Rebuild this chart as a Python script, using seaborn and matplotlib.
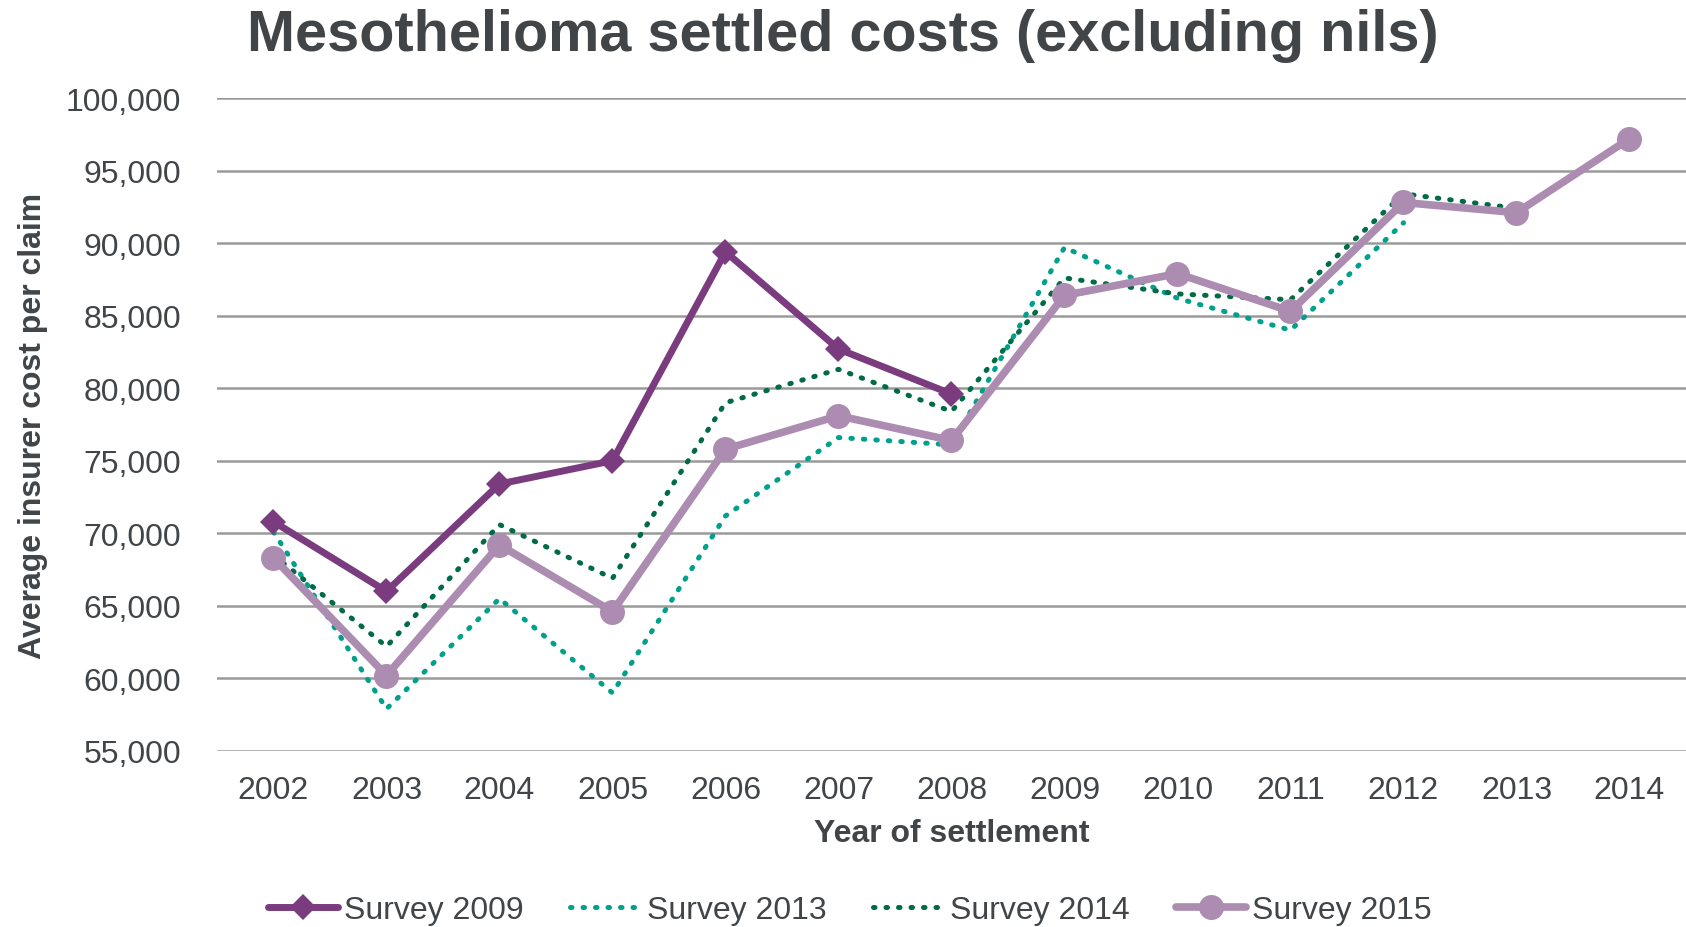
"""Mesothelioma settled costs (excluding nils) by survey year."""

import matplotlib.pyplot as plt
import seaborn as sns
from matplotlib.ticker import FuncFormatter

# Values
years = [2002, 2003, 2004, 2005, 2006, 2007, 2008, 2009, 2010, 2011, 2012, 2013, 2014]
survey_2009 = [70800, 66000, 73400, 75000, 89400, 82700, 79600]
survey_2013 = [70100, 57900, 65500, 59000, 71200, 76600, 76100, 89700, 86200, 84000, 91400]
survey_2014 = [68500, 62200, 70600, 66900, 79000, 81300, 78400, 87600, 86500, 86100, 93400, 92400]
survey_2015 = [68300, 60200, 69200, 64600, 75800, 78100, 76400, 86400, 87900, 85300, 92800, 92100, 97200]
y_ticks = list(range(55000, 100001, 5000))

TEXT = "#414548"

sns.set_theme(style="white")
plt.rcParams["font.family"] = ["Liberation Sans", "DejaVu Sans"]

fig, ax = plt.subplots(figsize=(16.86, 9.28), dpi=100)
fig.subplots_adjust(left=0.1287, right=1.0, bottom=0.1897, top=0.8933)

dotted = (0, (0.3, 2.2))

# dotted surveys first, then the solid ones on top
sns.lineplot(x=years[:len(survey_2013)], y=survey_2013, ax=ax, label="Survey 2013",
             color="#00A08A", linewidth=3.6, linestyle=dotted,
             dash_capstyle="round", zorder=2)
sns.lineplot(x=years[:len(survey_2014)], y=survey_2014, ax=ax, label="Survey 2014",
             color="#006B45", linewidth=3.6, linestyle=dotted,
             dash_capstyle="round", zorder=3)
sns.lineplot(x=years[:len(survey_2015)], y=survey_2015, ax=ax, label="Survey 2015",
             color="#AD8CB1", linewidth=5.5, marker="o", markersize=18,
             markeredgewidth=0, zorder=4)
sns.lineplot(x=years[:len(survey_2009)], y=survey_2009, ax=ax, label="Survey 2009",
             color="#7A3B7F", linewidth=5, marker="D", markersize=13,
             markeredgewidth=0, zorder=5)

ax.set_xlim(years[0] - 0.5, years[-1] + 0.5)
ax.set_ylim(y_ticks[0], y_ticks[-1])
ax.set_xticks(years)
ax.set_xticklabels([str(y) for y in years])
ax.set_yticks(y_ticks)
ax.yaxis.set_major_formatter(FuncFormatter(lambda v, _: f"{v:,.0f}"))

ax.grid(axis="y", color="#9A9A9A", linewidth=1.8)
ax.grid(axis="x", visible=False)
ax.set_axisbelow(True)
for side in ["top", "right", "left", "bottom"]:
    ax.spines[side].set_visible(False)
ax.tick_params(axis="both", length=0, labelsize=23, labelcolor=TEXT)
ax.tick_params(axis="y", pad=26)
ax.tick_params(axis="x", pad=17)

ax.set_xlabel("Year of settlement", fontsize=23, fontweight="bold", color=TEXT)
ax.xaxis.set_label_coords(0.5, -0.103)
ax.set_ylabel("Average insurer cost per claim", fontsize=23, fontweight="bold", color=TEXT)
ax.yaxis.set_label_coords(-0.115, 0.5)

fig.text(0.5, 1 - 36 / 928, "Mesothelioma settled costs (excluding nils)",
         ha="center", va="center", fontsize=41.5, fontweight="bold", color=TEXT)

handles, labels = ax.get_legend_handles_labels()
order = [labels.index(n) for n in ["Survey 2009", "Survey 2013", "Survey 2014", "Survey 2015"]]
ax.get_legend().remove()
fig.legend([handles[i] for i in order], [labels[i] for i in order],
           loc="center", bbox_to_anchor=(0.504, 1 - 911 / 928), ncol=4,
           frameon=False, fontsize=23, labelcolor=TEXT, handlelength=2.2,
           handletextpad=0.2, columnspacing=1.45, borderpad=0)

fig.savefig("out.png", dpi=100)
